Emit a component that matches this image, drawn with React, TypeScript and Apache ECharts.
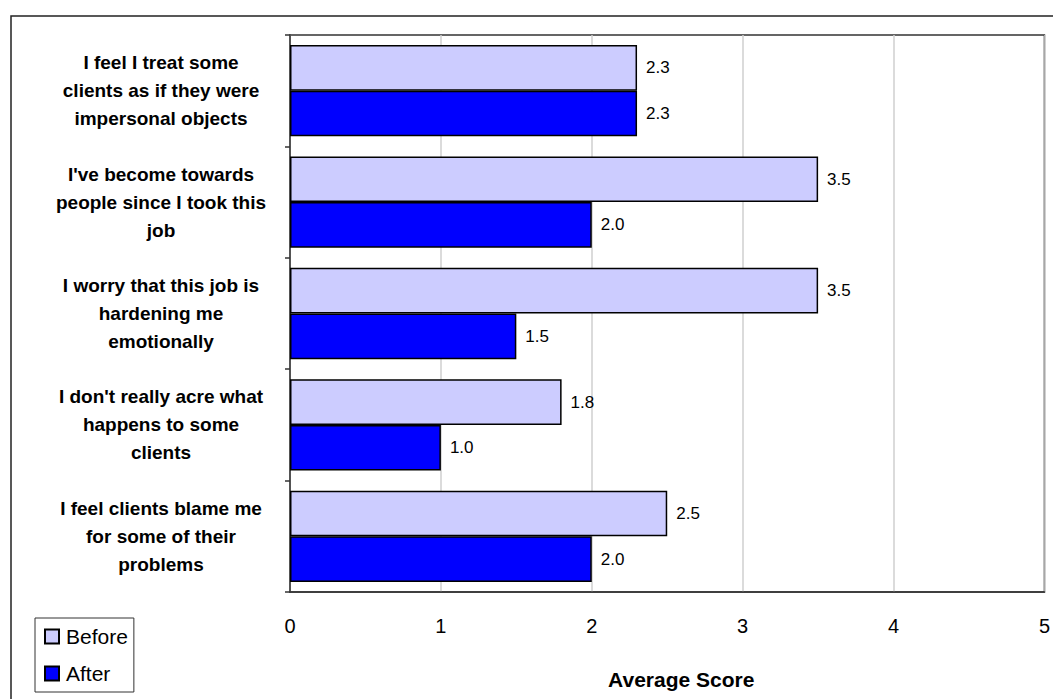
import React, { useEffect, useRef } from "react";
import * as echarts from "echarts";

// Survey statements, top to bottom
const categories: string[] = [
  "I feel I treat some\nclients as if they were\nimpersonal objects",
  "I've become towards\npeople since I took this\njob",
  "I worry that this job is\nhardening me\nemotionally",
  "I don't really acre what\nhappens to some\nclients",
  "I feel clients blame me\nfor some of their\nproblems",
];

const beforeScores: number[] = [2.3, 3.5, 3.5, 1.8, 2.5];
const afterScores: number[] = [2.3, 2.0, 1.5, 1.0, 2.0];

const seriesNames: string[] = ["Before", "After"];

export default function App() {
  const ref = useRef<HTMLDivElement>(null);

  useEffect(() => {
    if (!ref.current) return;
    const chart = echarts.init(ref.current, undefined, { renderer: "svg" });
    const font = "Arial, 'Liberation Sans', sans-serif";
    const valueLabel = {
      show: true,
      position: "right" as const,
      distance: 9,
      fontSize: 17,
      color: "#000",
      fontFamily: font,
      formatter: (p: any) => Number(p.value).toFixed(1),
    };

    chart.setOption({
      animation: false,
      backgroundColor: "#fff",
      textStyle: { fontFamily: font },
      graphic: [
        {
          type: "rect",
          z: -10,
          silent: true,
          shape: { x: 11, y: 16, width: 1100, height: 800 },
          style: { fill: "none", stroke: "#222", lineWidth: 1.5 },
        },
      ],
      grid: {
        left: 290,
        top: 35,
        right: 7,
        bottom: 107,
        show: true,
        borderColor: "#333",
        borderWidth: 1.5,
        backgroundColor: "transparent",
      },
      legend: {
        data: seriesNames,
        orient: "vertical",
        left: 35,
        top: 618,
        padding: [8, 6, 8, 9],
        borderColor: "#333",
        borderWidth: 1,
        itemWidth: 14,
        itemHeight: 14,
        itemGap: 16,
        icon: "rect",
        textStyle: { fontSize: 21, color: "#000", fontFamily: font, padding: [0, 0, 0, 2] },
      },
      xAxis: {
        type: "value",
        min: 0,
        max: 5,
        interval: 1,
        axisLine: { show: true, lineStyle: { color: "#333", width: 1.5 } },
        axisTick: { show: false },
        axisLabel: { fontSize: 20, color: "#000", margin: 24, fontFamily: font },
        splitLine: { show: true, lineStyle: { color: "#cfcfcf", width: 1.5 } },
        name: "Average Score",
        nameLocation: "middle",
        nameGap: 77,
        nameTextStyle: {
          fontSize: 21,
          fontWeight: "bold",
          color: "#000",
          fontFamily: font,
          padding: [0, 0, 0, 28],
        },
      },
      yAxis: {
        type: "category",
        inverse: true,
        data: categories,
        axisLine: { show: true, lineStyle: { color: "#333", width: 1.5 } },
        axisTick: { show: true, length: 5, alignWithLabel: false, lineStyle: { color: "#333", width: 1.5 } },
        axisLabel: {
          align: "center",
          margin: 129,
          fontSize: 19,
          fontWeight: "bold",
          lineHeight: 28,
          color: "#000",
          fontFamily: font,
        },
        splitLine: { show: false },
      },
      series: [
        {
          name: seriesNames[0],
          type: "bar",
          data: beforeScores,
          barGap: "0%",
          barCategoryGap: "18%",
          itemStyle: { color: "#CCCCFF", borderColor: "#000", borderWidth: 1.5 },
          label: valueLabel,
        },
        {
          name: seriesNames[1],
          type: "bar",
          data: afterScores,
          barGap: "0%",
          barCategoryGap: "18%",
          itemStyle: { color: "#0000FF", borderColor: "#000", borderWidth: 1.5 },
          label: valueLabel,
        },
      ],
    });

    return () => chart.dispose();
  }, []);

  return (
    <div
      ref={ref}
      style={{ position: "absolute", left: 0, top: 0, width: 1053, height: 699 }}
    />
  );
}
